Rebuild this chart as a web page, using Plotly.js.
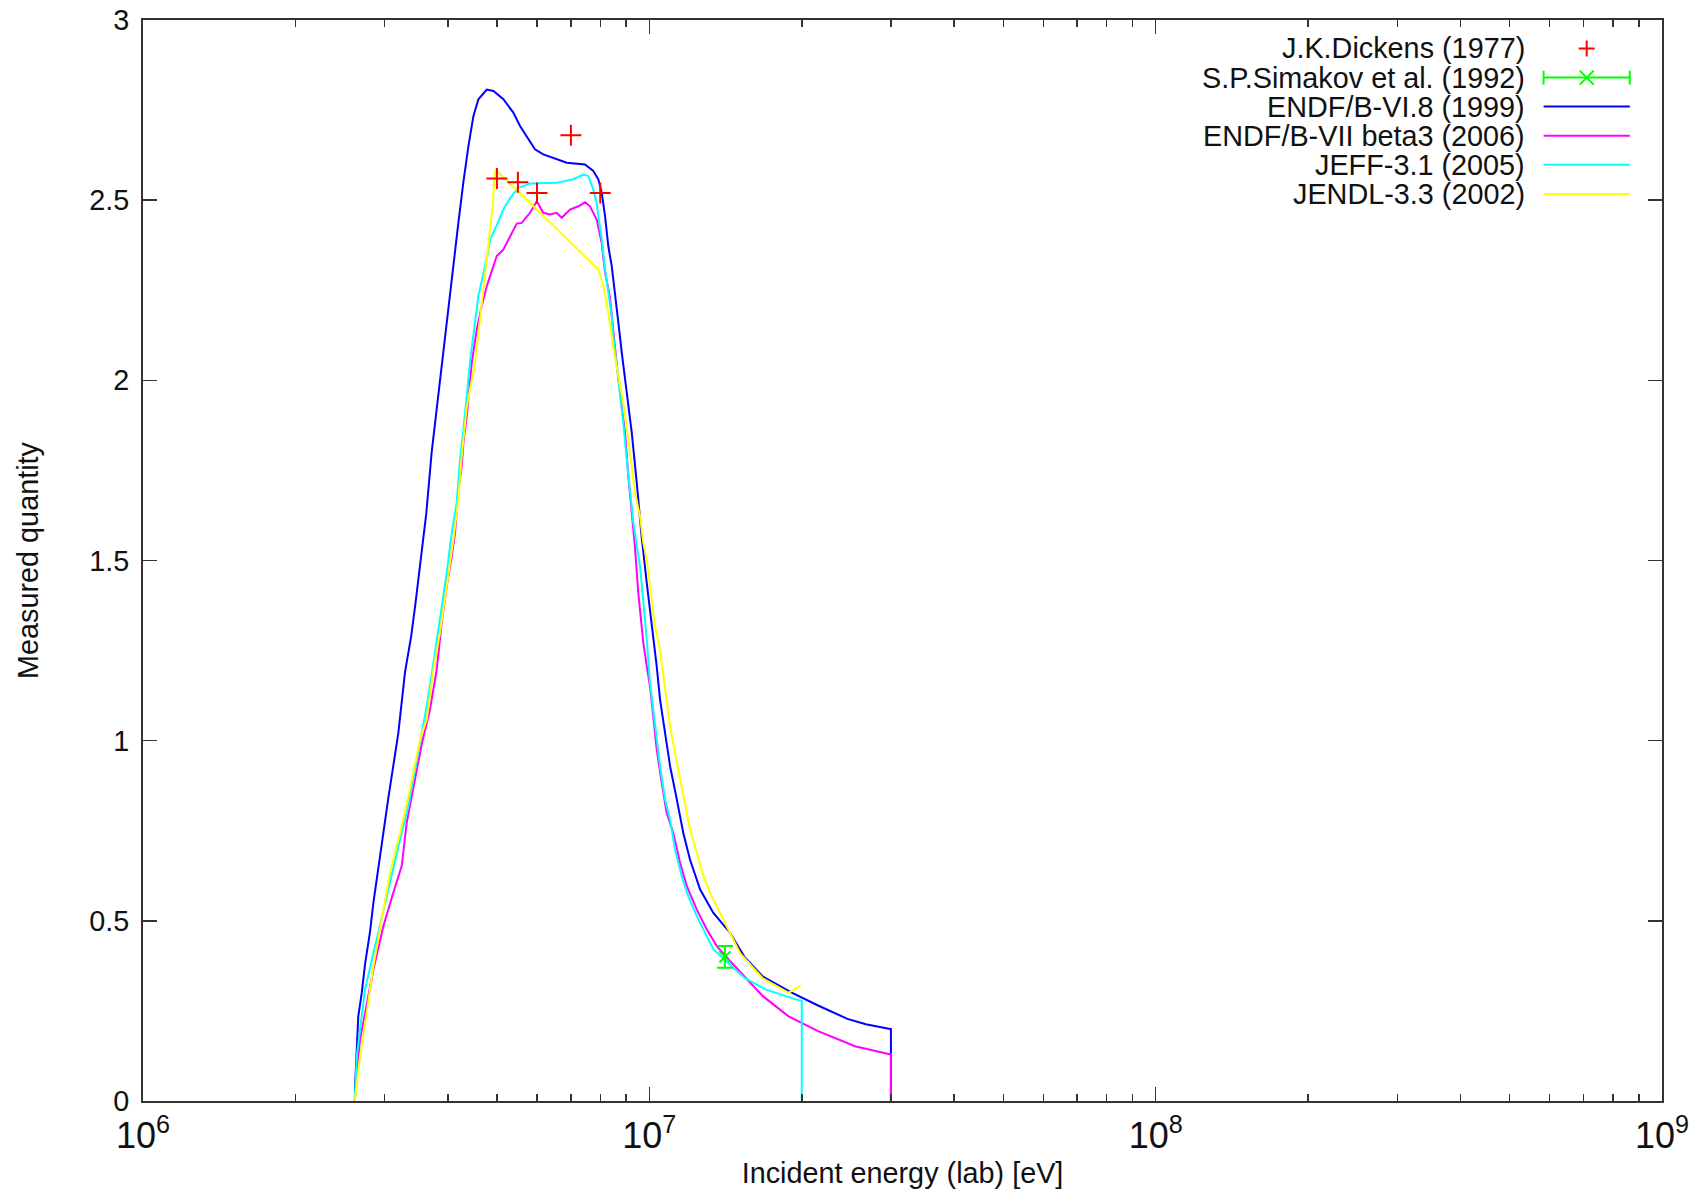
<!DOCTYPE html>
<html>
<head>
<meta charset="utf-8">
<script src="https://cdn.plot.ly/plotly-3.0.1.min.js"></script>
<style>html,body{margin:0;padding:0;background:#fff;}#chart{width:1689px;height:1191px;}</style>
</head>
<body>
<div id="chart"></div>
<script>
// ---- Data (energies in MeV, converted to eV below) ----
const dickensE = [5.0, 5.5, 6.0, 7.0, 8.0];
const dickensY = [2.56, 2.55, 2.52, 2.68, 2.52];

const simakovE = [14.1];
const simakovY = [0.40];
const simakovErr = [0.03];

const endf6E = [2.62, 2.623, 2.662, 2.704, 2.745, 2.808, 2.851, 2.938, 2.983, 3.051, 3.121, 3.193, 3.292, 3.386, 3.452, 3.538, 3.626, 3.716, 3.808, 3.904, 3.98, 4.102, 4.196, 4.293, 4.392, 4.493, 4.596, 4.775, 4.921, 5.149, 5.388, 5.554, 5.725, 5.945, 6.174, 6.562, 6.87, 7.464, 7.751, 7.929, 8.054, 8.176, 8.299, 8.428, 8.557, 8.687, 8.822, 9.025, 9.232, 9.444, 9.661, 9.883, 10.03, 10.18, 10.34, 10.5, 10.74, 10.99, 11.33, 11.67, 12.03, 12.6, 13.38, 13.95, 14.43, 15.41, 16.76, 19.15, 21.54, 24.62, 26.76, 29.9, 30.0, 30.0];
const endf6Y = [0.0, 0.04, 0.235, 0.30, 0.38, 0.47, 0.55, 0.68, 0.75, 0.84, 0.93, 1.02, 1.19, 1.29, 1.38, 1.50, 1.63, 1.80, 1.93, 2.07, 2.17, 2.317, 2.437, 2.55, 2.65, 2.733, 2.78, 2.807, 2.803, 2.78, 2.743, 2.706, 2.678, 2.641, 2.627, 2.613, 2.604, 2.599, 2.581, 2.558, 2.521, 2.456, 2.372, 2.317, 2.243, 2.16, 2.077, 1.966, 1.855, 1.716, 1.563, 1.438, 1.364, 1.281, 1.207, 1.114, 1.022, 0.929, 0.837, 0.744, 0.67, 0.587, 0.522, 0.49, 0.467, 0.40, 0.345, 0.30, 0.265, 0.228, 0.213, 0.200, 0.200, 0.0];

const endf7E = [2.62, 2.683, 2.851, 2.983, 3.121, 3.243, 3.317, 3.42, 3.552, 3.689, 3.803, 3.89, 3.98, 4.072, 4.134, 4.196, 4.261, 4.293, 4.358, 4.46, 4.562, 4.667, 4.775, 4.921, 4.996, 5.149, 5.307, 5.471, 5.598, 5.813, 5.993, 6.174, 6.367, 6.562, 6.714, 6.97, 7.24, 7.464, 7.636, 7.87, 8.054, 8.176, 8.36, 8.49, 8.62, 8.822, 8.954, 9.09, 9.232, 9.37, 9.51, 9.73, 9.883, 10.03, 10.18, 10.34, 10.58, 10.82, 11.15, 11.5, 11.86, 12.41, 12.99, 13.59, 14.4, 15.41, 16.76, 18.83, 21.54, 25.48, 29.9, 30.0, 30.0];
const endf7Y = [0.0, 0.17, 0.365, 0.485, 0.578, 0.652, 0.772, 0.865, 0.99, 1.087, 1.198, 1.327, 1.429, 1.512, 1.577, 1.697, 1.762, 1.827, 1.90, 2.049, 2.141, 2.206, 2.261, 2.317, 2.345, 2.363, 2.40, 2.435, 2.437, 2.465, 2.497, 2.465, 2.46, 2.465, 2.451, 2.474, 2.483, 2.494, 2.483, 2.446, 2.38, 2.30, 2.23, 2.135, 2.045, 1.928, 1.855, 1.734, 1.64, 1.535, 1.41, 1.272, 1.207, 1.151, 1.068, 0.976, 0.883, 0.80, 0.744, 0.661, 0.596, 0.531, 0.476, 0.43, 0.39, 0.346, 0.291, 0.235, 0.194, 0.152, 0.129, 0.129, 0.0];

const jeffE = [2.62, 2.643, 2.745, 2.851, 2.938, 3.075, 3.218, 3.342, 3.49, 3.634, 3.773, 3.86, 3.98, 4.072, 4.165, 4.228, 4.293, 4.44, 4.596, 4.738, 4.848, 4.996, 5.149, 5.307, 5.512, 5.638, 5.813, 6.562, 7.077, 7.406, 7.577, 7.751, 7.87, 7.929, 8.054, 8.176, 8.299, 8.428, 8.49, 8.62, 8.75, 8.884, 9.025, 9.161, 9.299, 9.585, 9.73, 9.883, 10.03, 10.26, 10.5, 10.74, 10.99, 11.24, 11.59, 11.94, 12.41, 12.99, 13.4, 15.41, 17.0, 19.47, 20.0, 20.0];
const jeffY = [0.0, 0.124, 0.31, 0.41, 0.485, 0.605, 0.726, 0.818, 0.96, 1.096, 1.244, 1.336, 1.466, 1.577, 1.66, 1.78, 1.864, 2.07, 2.234, 2.317, 2.391, 2.43, 2.475, 2.505, 2.535, 2.539, 2.546, 2.548, 2.558, 2.571, 2.567, 2.53, 2.493, 2.456, 2.391, 2.308, 2.243, 2.178, 2.123, 2.04, 1.975, 1.882, 1.78, 1.697, 1.605, 1.484, 1.392, 1.281, 1.161, 1.04, 0.929, 0.837, 0.781, 0.698, 0.624, 0.568, 0.513, 0.457, 0.42, 0.342, 0.309, 0.282, 0.278, 0.0];

const jendlE = [2.62, 2.683, 2.766, 2.851, 2.961, 3.075, 3.218, 3.368, 3.524, 3.634, 3.745, 3.86, 3.98, 4.102, 4.196, 4.261, 4.358, 4.526, 4.63, 4.738, 4.848, 4.905, 4.935, 4.97, 7.929, 8.114, 8.299, 8.49, 8.687, 8.884, 9.09, 9.232, 9.37, 9.585, 9.73, 9.883, 10.11, 10.26, 10.5, 10.74, 10.99, 11.24, 11.5, 11.77, 12.03, 12.41, 12.79, 13.18, 13.79, 14.43, 15.11, 16.76, 18.83, 19.9];
const jendlY = [0.0, 0.124, 0.245, 0.374, 0.504, 0.633, 0.744, 0.865, 1.003, 1.059, 1.198, 1.30, 1.429, 1.558, 1.67, 1.79, 1.925, 2.049, 2.169, 2.299, 2.419, 2.483, 2.548, 2.585, 2.308, 2.262, 2.188, 2.09, 2.012, 1.938, 1.836, 1.753, 1.688, 1.623, 1.549, 1.503, 1.392, 1.318, 1.253, 1.142, 1.04, 0.966, 0.892, 0.818, 0.754, 0.689, 0.624, 0.578, 0.522, 0.466, 0.41, 0.34, 0.30, 0.32];

const legendLabels = ["J.K.Dickens (1977)", "S.P.Simakov et al. (1992)", "ENDF/B-VI.8 (1999)", "ENDF/B-VII beta3 (2006)", "JEFF-3.1 (2005)", "JENDL-3.3 (2002)"];
const xTitle = "Incident energy (lab) [eV]";
const yTitle = "Measured quantity";

// ---- Helpers ----
const toEv = a => a.map(v => v * 1e6);
const FONT = "Liberation Sans, Arial, Helvetica, sans-serif";
const FS = 28.8;
const W = 1689, H = 1191;
const M = {l: 143, r: 27, t: 20, b: 90};
const PW = W - M.l - M.r, PH = H - M.t - M.b;
const pxX = px => (px - M.l) / PW;
const pxY = py => (H - M.b - py) / PH;

const lineTrace = (x, y, color, name) => ({
  x: toEv(x), y: y, type: 'scatter', mode: 'lines', name: name,
  line: {color: color, width: 2, shape: 'linear'}, showlegend: false, hoverinfo: 'skip'
});

const traces = [
  lineTrace(endf6E, endf6Y, '#0000ff', legendLabels[2]),
  lineTrace(endf7E, endf7Y, '#ff00ff', legendLabels[3]),
  lineTrace(jeffE, jeffY, '#00ffff', legendLabels[4]),
  lineTrace(jendlE, jendlY, '#ffff00', legendLabels[5]),
  {
    x: toEv(dickensE), y: dickensY, type: 'scatter', mode: 'markers', name: legendLabels[0],
    marker: {symbol: 'cross-thin', size: 15, color: '#ff0000', line: {color: '#ff0000', width: 2}},
    showlegend: false
  },
  {
    x: toEv(simakovE), y: simakovY, type: 'scatter', mode: 'markers', name: legendLabels[1],
    marker: {symbol: 'x-thin', size: 11, color: '#00ff00', line: {color: '#00ff00', width: 2}},
    error_y: {type: 'data', array: simakovErr, visible: true, color: '#00ff00', thickness: 2, width: 8},
    showlegend: false
  }
];

// ---- Custom gnuplot-style key (text, then sample to its right) ----
const rowsY = [48.5, 77.6, 106.6, 135.7, 164.8, 193.9];
const textRight = 1527;
const sampleL = 1543.6, sampleR = 1629.8, sampleC = 1586.7;
const annotations = legendLabels.map((t, i) => ({
  text: t, xref: 'paper', yref: 'paper', x: pxX(textRight), y: pxY(rowsY[i]),
  xanchor: 'right', yanchor: 'middle', showarrow: false,
  font: {family: FONT, size: FS, color: '#111'}
}));
const shapes = [];
const seg = (x0, y0, x1, y1, color) => shapes.push({
  type: 'line', xref: 'paper', yref: 'paper',
  x0: pxX(x0), y0: pxY(y0), x1: pxX(x1), y1: pxY(y1),
  line: {color: color, width: 2}
});
// Dickens "+"
seg(sampleC - 8, rowsY[0], sampleC + 8, rowsY[0], '#ff0000');
seg(sampleC, rowsY[0] - 8, sampleC, rowsY[0] + 8, '#ff0000');
// Simakov bar with caps and x
seg(sampleL, rowsY[1], sampleR, rowsY[1], '#00ff00');
seg(sampleL, rowsY[1] - 7, sampleL, rowsY[1] + 7, '#00ff00');
seg(sampleR, rowsY[1] - 7, sampleR, rowsY[1] + 7, '#00ff00');
seg(sampleC - 7, rowsY[1] - 7, sampleC + 7, rowsY[1] + 7, '#00ff00');
seg(sampleC - 7, rowsY[1] + 7, sampleC + 7, rowsY[1] - 7, '#00ff00');
// line samples
['#0000ff', '#ff00ff', '#00ffff', '#ffff00'].forEach((c, k) => seg(sampleL, rowsY[k + 2], sampleR, rowsY[k + 2], c));

const axisCommon = {
  showline: true, linecolor: '#333', linewidth: 2, mirror: 'allticks',
  ticks: 'inside', ticklen: 14, tickwidth: 1.5, tickcolor: '#333',
  showgrid: false, zeroline: false, ticklabeloverflow: 'allow',
  tickfont: {family: FONT, size: FS, color: '#111'}
};

const layout = {
  width: W, height: H, margin: M,
  paper_bgcolor: '#fff', plot_bgcolor: '#fff',
  font: {family: FONT, size: FS, color: '#111'},
  showlegend: false,
  xaxis: Object.assign({}, axisCommon, {
    type: 'log', range: [6, 9], dtick: 1, exponentformat: 'power', showexponent: 'all',
    ticklabelstandoff: 3,
    minor: {ticks: 'inside', ticklen: 7, tickwidth: 1.5, tickcolor: '#333', dtick: 'D1', showgrid: false},
    title: {text: xTitle, standoff: 8, font: {family: FONT, size: FS, color: '#111'}}
  }),
  yaxis: Object.assign({}, axisCommon, {
    range: [0, 3], dtick: 0.5, tick0: 0, ticklabelstandoff: 6,
    title: {text: yTitle, standoff: 42, font: {family: FONT, size: FS, color: '#111'}}
  }),
  annotations: annotations,
  shapes: shapes
};

Plotly.newPlot('chart', traces, layout, {staticPlot: true, displayModeBar: false});
</script>
</body>
</html>
